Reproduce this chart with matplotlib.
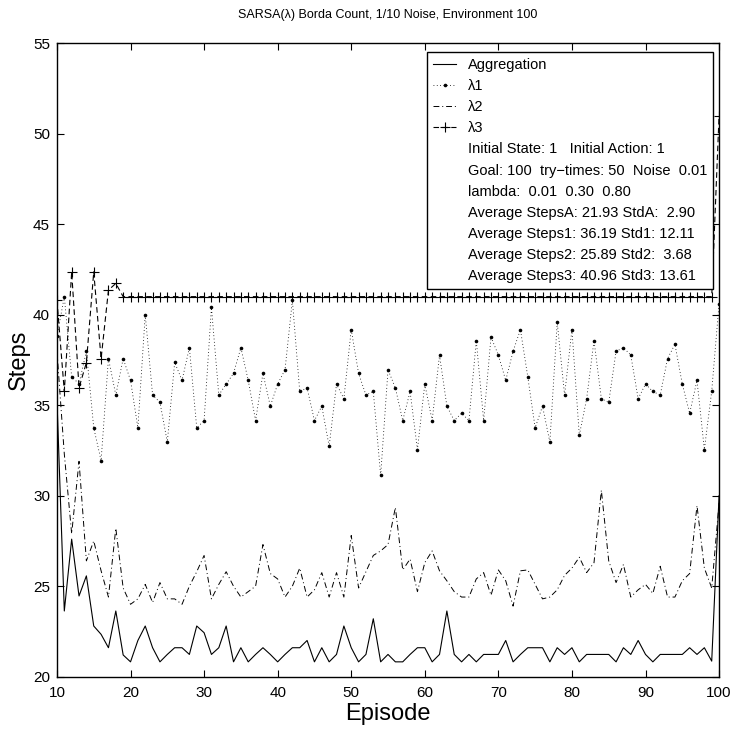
import numpy as np
import matplotlib
matplotlib.use("Agg")
import matplotlib.pyplot as plt
from matplotlib.lines import Line2D

plt.rcParams['font.family'] = ['Liberation Sans', 'DejaVu Sans']

episodes = np.arange(10, 101)

# Aggregation (solid)
aggregation = [35.3,
               23.63, 27.6, 24.46, 25.57, 22.8, 22.34, 21.6, 23.63, 21.2, 20.82,
               22.0, 22.8, 21.6, 20.82, 21.23, 21.6, 21.6, 21.23, 22.8, 22.43,
               21.23, 21.6, 22.8, 20.82, 21.6, 20.82, 21.23, 21.6, 21.23, 20.82,
               21.23, 21.6, 21.6, 22.0, 20.82, 21.6, 20.82, 21.23, 22.8, 21.6,
               20.82, 21.23, 23.2, 20.82, 21.23, 20.82, 20.82, 21.23, 21.6, 21.6,
               20.82, 21.23, 23.63, 21.23, 20.82, 21.23, 20.82, 21.23, 21.23, 21.23,
               22.0, 20.82, 21.23, 21.6, 21.6, 21.6, 20.82, 21.6, 21.23, 21.6,
               20.82, 21.23, 21.23, 21.23, 21.23, 20.82, 21.6, 21.23, 22.0, 21.23,
               20.82, 21.23, 21.23, 21.23, 21.23, 21.6, 21.23, 21.6, 20.86, 30.0]

# lambda1 (dotted with dots)
lam1 = [38.8,
        41.0, 36.56, 36.19, 37.98, 33.75, 31.94, 37.58, 35.56, 37.58, 36.37,
        33.75, 40.01, 35.56, 35.16, 32.96, 37.37, 36.37, 38.18, 33.75, 34.15,
        40.4, 35.56, 36.17, 36.76, 38.18, 36.37, 34.15, 36.76, 34.95, 36.17,
        36.96, 40.79, 35.76, 35.96, 34.15, 34.95, 32.73, 36.17, 35.36, 39.18,
        36.76, 35.56, 35.76, 31.12, 36.96, 35.96, 34.15, 35.76, 32.55, 36.17,
        34.15, 37.77, 34.95, 34.15, 34.56, 34.15, 38.57, 34.15, 38.77, 37.77,
        36.37, 37.98, 39.18, 36.56, 33.75, 34.95, 32.96, 39.58, 35.56, 39.18,
        33.34, 35.36, 38.57, 35.36, 35.16, 37.98, 38.18, 37.77, 35.36, 36.17,
        35.76, 35.56, 37.58, 38.37, 36.17, 34.56, 36.37, 32.55, 35.78, 40.62]

# lambda2 (dash-dot)
lam2 = [38.0,
        32.3, 27.9, 31.9, 26.4, 27.5, 25.85, 24.4, 28.2, 24.9, 24.0,
        24.3, 25.1, 24.1, 25.2, 24.3, 24.3, 24.0, 25.0, 25.8, 26.7,
        24.3, 25.1, 25.8, 25.0, 24.4, 24.7, 25.0, 27.3, 25.7, 25.4,
        24.4, 25.0, 26.0, 24.4, 24.8, 25.75, 24.4, 25.75, 24.4, 27.8,
        24.9, 25.8, 26.7, 26.95, 27.3, 29.35, 25.9, 26.5, 24.7, 26.3,
        26.95, 25.85, 25.3, 24.7, 24.4, 24.4, 25.4, 25.75, 24.5, 25.9,
        25.3, 23.9, 25.85, 25.9, 25.1, 24.3, 24.4, 24.8, 25.6, 26.0,
        26.6, 25.75, 26.3, 30.3, 26.4, 25.2, 26.2, 24.4, 24.8, 25.1,
        24.6, 26.1, 24.4, 24.4, 25.3, 25.7, 29.45, 26.0, 24.9, 29.6]

# lambda3 (dashed with plus)
lam3 = [40.8, 35.76, 42.37, 35.97, 37.35, 42.37, 37.57, 41.36, 41.73] + [41.0] * 81 + [51.0]

legend_labels = ["Aggregation", "λ1", "λ2", "λ3"]
info_lines = ["Initial State: 1   Initial Action: 1",
              "Goal: 100  try\u2212times: 50  Noise  0.01",
              "lambda:  0.01  0.30  0.80",
              "Average StepsA: 21.93 StdA:  2.90",
              "Average Steps1: 36.19 Std1: 12.11",
              "Average Steps2: 25.89 Std2:  3.68",
              "Average Steps3: 40.96 Std3: 13.61"]

fig = plt.figure(figsize=(7.33, 7.31), dpi=100)
ax = fig.add_axes([0.0777, 0.0743, 0.9033, 0.8665])

h0, = ax.plot(episodes, aggregation, color='black', lw=0.8, ls='-')
h1, = ax.plot(episodes, lam1, color='black', lw=0.6, ls=(0, (1, 3)),
              marker='o', markersize=2.6, markerfacecolor='black', markeredgewidth=0)
h2, = ax.plot(episodes, lam2, color='black', lw=0.7, ls=(0, (6, 3, 1, 3)))
h3, = ax.plot(episodes, lam3, color='black', lw=0.8, ls=(0, (5, 3)),
              marker='+', markersize=7, markeredgewidth=0.8)

ax.set_xlim(10, 100)
ax.set_ylim(20, 55)
ax.set_xticks(np.arange(10, 101, 10))
ax.set_yticks(np.arange(20, 56, 5))
ax.tick_params(direction='in', length=5, width=0.8, top=True, right=True,
               labelsize=11)
ax.tick_params(axis='x', pad=7)
ax.tick_params(axis='y', pad=5)
for s in ax.spines.values():
    s.set_linewidth(1.0)

ax.set_title("SARSA(λ) Borda Count, 1/10 Noise, Environment 100", fontsize=9, pad=18)
ax.set_xlabel("Episode", fontsize=17, labelpad=2)
ax.set_ylabel("Steps", fontsize=17, labelpad=2)

blank = [Line2D([], [], ls='none') for _ in info_lines]
leg = ax.legend([h0, h1, h2, h3] + blank, legend_labels + info_lines,
                loc='upper right', bbox_to_anchor=(0.991, 0.9863), borderaxespad=0,
                fontsize=10.5, frameon=True, fancybox=False, handlelength=1.6,
                handletextpad=0.8, labelspacing=0.49, borderpad=0.4)
leg.get_frame().set_edgecolor('black')
leg.get_frame().set_linewidth(1.0)
leg.get_frame().set_alpha(1)

fig.savefig("out.png", dpi=100)
